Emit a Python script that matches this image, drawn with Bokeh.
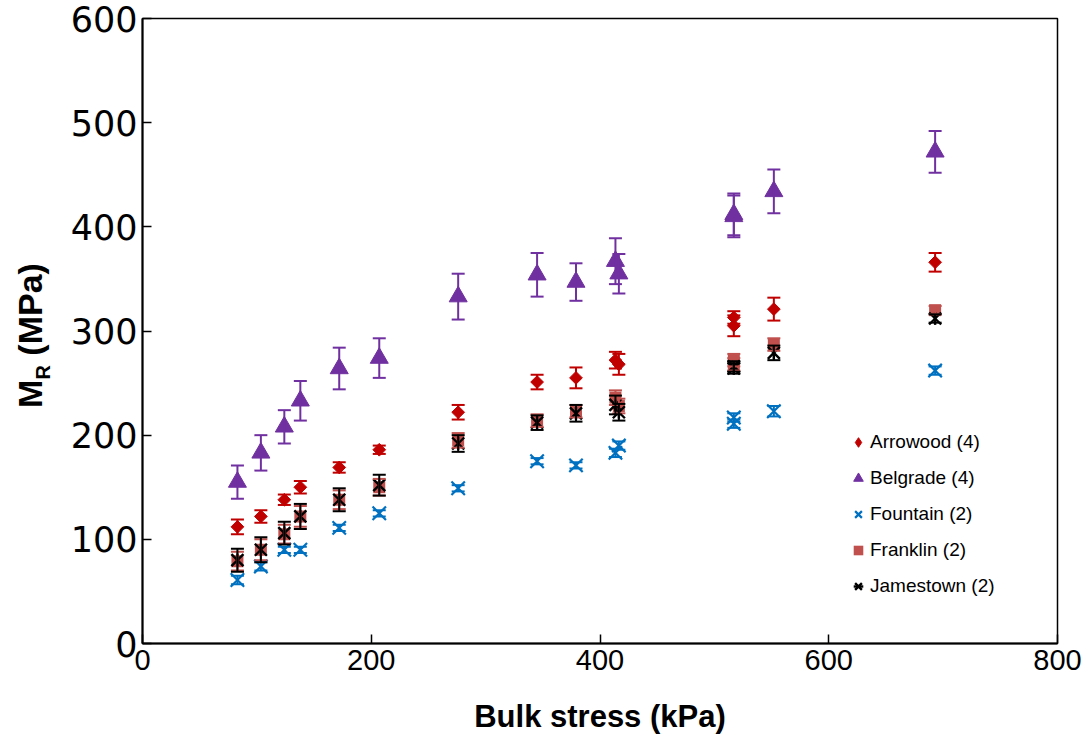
import numpy as np
from bokeh.plotting import figure
from bokeh.layouts import row
from bokeh.models import (ColumnDataSource, Whisker, TeeHead, Legend, LegendItem,
                          Range1d, FixedTicker)
from bokeh.core.properties import value
from bokeh.embed import file_html
from bokeh.resources import INLINE

# ---------------- data ----------------
bulk_stress = [83, 103.5, 124, 138, 172, 207, 276, 345, 379, 413.5, 416.5, 517, 517, 552, 693]

arrowood = [112, 122, 138, 150, 169, 186, 222, 251, 255, 272, 268, 313, 305, 321, 366]
arrowood_err = [7, 6, 5, 6, 5, 4, 7, 7, 10, 8, 10, 6, 10, 11, 9]

belgrade = [155, 183, 208, 233, 264, 274, 333, 354, 347, 367, 355, 412, 410, 434, 472]
belgrade_err = [16, 17, 16, 19, 20, 19, 22, 21, 18, 22, 19, 20, 20, 21, 20]

fountain = [61, 74, 90, 90, 111, 125, 149, 175, 171, 183, 190, 211, 217, 223, 262]
fountain_err = [4, 4, 3, 3, 3, 3, 3, 3, 3, 4, 4, 4, 4, 5, 4]

franklin = [79, 90, 105, 122, 138, 150, 195, 214, 223, 236, 228, 272, 268, 287, 320]
franklin_err = [9, 10, 9, 10, 9, 8, 7, 6, 6, 7, 7, 6, 6, 6, 4]

jamestown = [80, 90, 106, 122, 138, 152, 192, 212, 221, 229, 222, 266, 264, 279, 312]
jamestown_err = [11, 12, 11, 12, 11, 10, 8, 7, 8, 9, 8, 5, 5, 7, 4]

series_names = ["Arrowood (4)", "Belgrade (4)", "Fountain (2)", "Franklin (2)", "Jamestown (2)"]
x_ticks = [0, 200, 400, 600, 800]
y_ticks = [0, 100, 200, 300, 400, 500, 600]
x_title = "Bulk stress (kPa)"
y_title_parts = ["M", "R", "(MPa)"]

# ---------------- layout constants ----------------
W, H = 1091, 736
TITLE_W = 60
LEFT, RIGHT, TOP, BOTTOM = 142, 34, 18, 93

# ---------------- main figure ----------------
p = figure(width=W - TITLE_W, height=H, output_backend="svg", toolbar_location=None,
           x_range=Range1d(0, 800), y_range=Range1d(0, 600),
           min_border_left=LEFT - TITLE_W, min_border_right=RIGHT,
           min_border_top=TOP, min_border_bottom=BOTTOM)
p.background_fill_color = "white"
p.border_fill_color = "white"
p.outline_line_color = "black"
p.outline_line_width = 1.5
p.xgrid.visible = False
p.ygrid.visible = False

for ax in (p.xaxis[0], p.yaxis[0]):
    ax.axis_line_color = "black"
    ax.axis_line_width = 2
    ax.major_tick_in = 9
    ax.major_tick_out = 0
    ax.major_tick_line_width = 1.5
    ax.major_tick_line_color = "black"
    ax.minor_tick_line_color = None
    ax.major_label_text_color = "black"

p.xaxis.ticker = FixedTicker(ticks=x_ticks)
p.yaxis.ticker = FixedTicker(ticks=y_ticks)
p.xaxis.major_label_text_font = "Liberation Sans"
p.xaxis.major_label_text_font_size = "29px"
p.yaxis.major_label_text_font = "DejaVu Sans"
p.yaxis.major_label_text_font_size = "35px"
p.xaxis.major_label_standoff = 6
p.yaxis.major_label_standoff = 5
p.xaxis.axis_label = x_title
p.xaxis.axis_label_text_font = "Liberation Sans"
p.xaxis.axis_label_text_font_style = "bold"
p.xaxis.axis_label_text_font_size = "31px"
p.xaxis.axis_label_text_color = "black"
p.xaxis.axis_label_standoff = 26

# ---------------- series ----------------
x = np.array(bulk_stress, dtype=float)


def add_series(vals, errs, color, marker, size, line_width=0.0, angle=0.0, star=False):
    v = np.array(vals, dtype=float)
    e = np.array(errs, dtype=float)
    src = ColumnDataSource(dict(x=x, y=v, upper=v + e, lower=v - e))
    wh = Whisker(source=src, base="x", upper="upper", lower="lower", dimension="height",
                 line_color=color, line_width=2, level="glyph",
                 upper_head=TeeHead(size=13, line_color=color, line_width=2),
                 lower_head=TeeHead(size=13, line_color=color, line_width=2))
    p.add_layout(wh)
    rends = []
    if marker == "x":
        r = p.scatter("x", "y", source=src, marker="x", size=size, line_color=color,
                      line_width=line_width, fill_color=None)
    else:
        r = p.scatter("x", "y", source=src, marker=marker, size=size, fill_color=color,
                      line_color=color, line_width=line_width, angle=angle)
    rends.append(r)
    if star:
        r2 = p.scatter("x", "y", source=src, marker="dash", size=size * 0.75,
                       line_color=color, line_width=line_width, angle=np.pi / 2)
        rends.append(r2)
    return rends


colors = ["#C00000", "#7030A0", "#0070C0", "#C0504D", "black"]

r_arr = add_series(arrowood, arrowood_err, colors[0], "square", 9, line_width=1, angle=np.pi / 4)
r_bel = add_series(belgrade, belgrade_err, colors[1], "triangle", 18, line_width=1)
r_fou = add_series(fountain, fountain_err, colors[2], "x", 19, line_width=2.2)
r_fra = add_series(franklin, franklin_err, colors[3], "square", 12, line_width=0)
r_jam = add_series(jamestown, jamestown_err, colors[4], "x", 17, line_width=2.4, star=True)

# legend proxy for the diamond symbol (legend glyphs are drawn unrotated)
arr_proxy = p.scatter(x=[np.nan], y=[np.nan], marker="diamond", fill_color=colors[0],
                      line_color=colors[0], line_width=1)

legend = Legend(items=[
    LegendItem(label=series_names[0], renderers=[arr_proxy]),
    LegendItem(label=series_names[1], renderers=r_bel),
    LegendItem(label=series_names[2], renderers=r_fou),
    LegendItem(label=series_names[3], renderers=r_fra),
    LegendItem(label=series_names[4], renderers=r_jam),
], location=(704, 45))
legend.border_line_color = None
legend.background_fill_alpha = 0
legend.padding = 0
legend.margin = 0
legend.glyph_width = 24
legend.glyph_height = 24
legend.label_height = 24
legend.spacing = 12
legend.label_standoff = 0
legend.label_text_font = "Liberation Sans"
legend.label_text_font_size = "19px"
legend.label_text_color = "black"
p.add_layout(legend)

# ---------------- y-axis title strip (M with subscript R) ----------------
# the strip's frame is aligned with the main frame (rows align frames),
# so its y range is expressed in page pixels of that frame
t = figure(width=TITLE_W, height=H, output_backend="svg", toolbar_location=None,
           x_range=Range1d(0, TITLE_W), y_range=Range1d(H - BOTTOM, TOP),
           x_axis_location=None, y_axis_location=None, min_border=0)
t.outline_line_color = None
t.xgrid.visible = False
t.ygrid.visible = False
t.background_fill_color = "white"
t.border_fill_color = "white"

big, small = 34, 20
w_M = 0.833 * big
w_R = 0.722 * small
gap = 0.278 * big
w_P = (0.333 + 0.833 + 0.667 + 0.556 + 0.333) * big
total = w_M + w_R + gap + w_P
center_y = 335.0
bottom_y = center_y + total / 2.0
cx_big = 29.0
cx_small = 42.0

t.text(x=[cx_big, cx_small, cx_big],
       y=[bottom_y - w_M / 2, bottom_y - w_M - w_R / 2, bottom_y - w_M - w_R - gap - w_P / 2],
       text=y_title_parts, angle=np.pi / 2,
       text_font=value("Liberation Sans"), text_font_style="bold",
       text_font_size=[f"{big}px", f"{small}px", f"{big}px"],
       text_align="center", text_baseline="middle", text_color="black")

layout = row(t, p, spacing=0)
open("out.html", "w").write(file_html(layout, INLINE))
